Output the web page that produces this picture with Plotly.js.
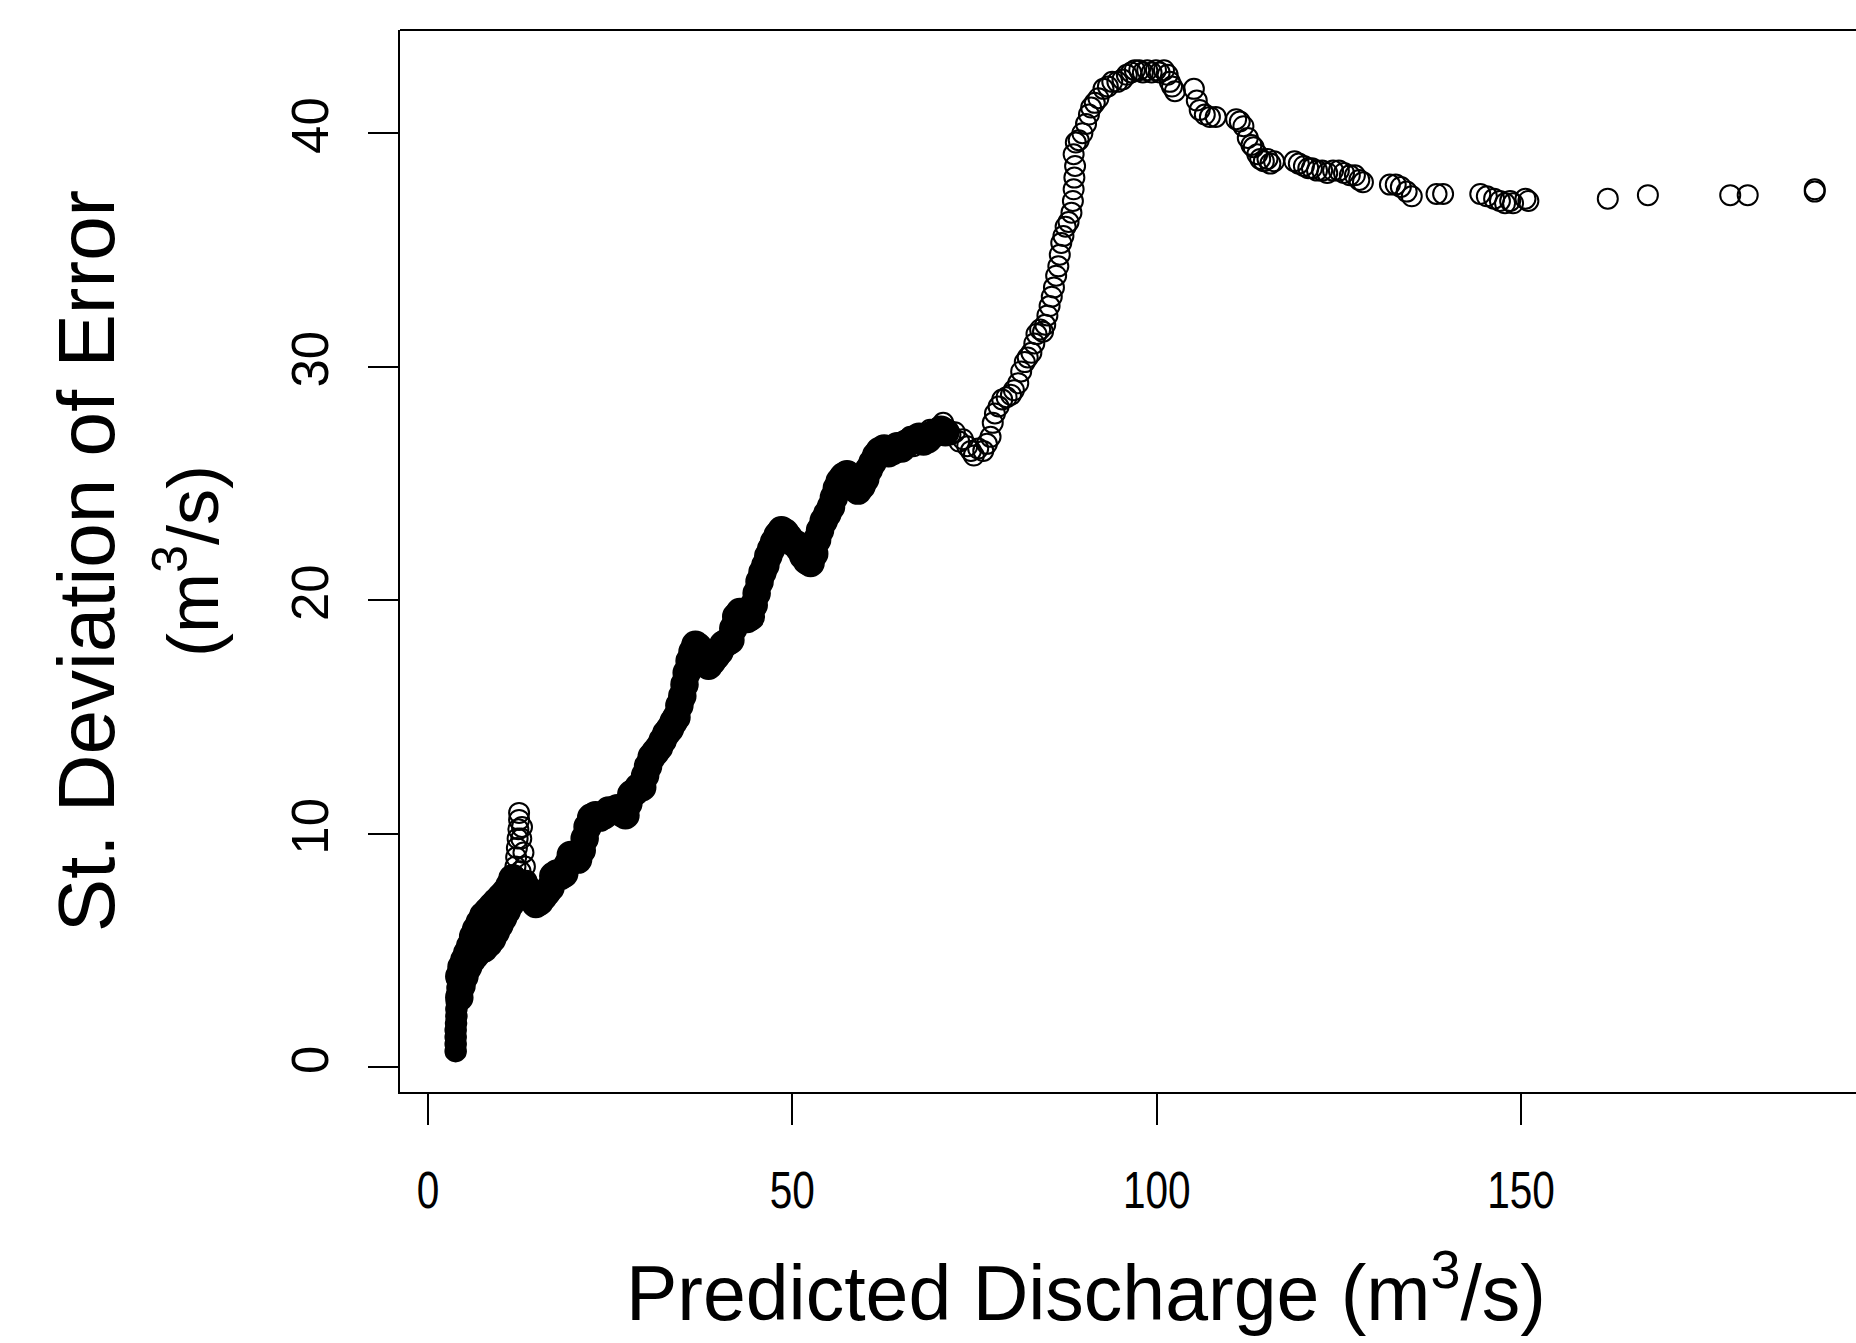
<!DOCTYPE html>
<html>
<head>
<meta charset="utf-8">
<script src="https://cdn.plot.ly/plotly-3.0.1.min.js"></script>
<style>
  html, body { margin: 0; padding: 0; background: #ffffff; overflow: hidden; }
  #chart { width: 1856px; height: 1343px; }
</style>
</head>
<body>
<div id="chart"></div>
<script>
// Lowest flows: narrow vertical column of overlapping points
const baseDischarge = [3.8, 3.8, 3.8, 3.8, 3.85, 3.9, 3.9, 3.95, 4.0, 4.05, 4.1];
const baseSdError   = [0.7, 1.0, 1.3, 1.6, 1.9, 2.2, 2.5, 2.8, 3.1, 3.4, 3.7];

// Dense low-flow part (points overlap into a solid band)
const coreDischarge = [
  4.3, 4.6, 5.0, 5.4, 5.8, 6.2, 6.6, 7.1, 7.6, 8.2, 8.8, 9.4, 10.0, 10.6, 11.2, 11.6,
  4.3, 4.6, 5.0, 5.5, 6.0, 6.5, 7.1, 7.7, 8.3, 8.8, 9.3, 9.8, 10.3, 10.8, 11.3, 11.8, 12.3,
  12.8, 13.3, 13.8, 14.3, 14.8, 15.3, 15.8, 16.3, 16.8, 17.2, 17.7, 18.2, 18.7, 19.2, 19.6,
  20.1, 20.6, 21.1, 21.5, 21.9, 22.4, 23.0, 23.6, 24.2, 24.8, 25.4, 26.0, 26.6, 27.1, 27.5,
  27.9, 28.4, 28.9, 29.4, 29.8, 30.2, 30.7, 31.2, 31.7, 32.2, 32.7, 33.2, 33.7, 34.1, 34.5,
  34.9, 35.2, 35.5, 35.9, 36.3, 36.7, 37.1, 37.5, 38.0, 38.5, 39.0, 39.5, 40.0, 40.5, 41.0,
  41.5, 41.9, 42.3, 42.8, 43.3, 43.8, 44.3, 44.7, 45.1, 45.5, 45.9, 46.3, 46.7, 47.1, 47.5,
  48.0, 48.5, 49.0, 49.5, 50.0, 50.5, 51.0, 51.5, 52.0, 52.5, 53.0, 53.4, 53.8, 54.3, 54.8,
  55.3, 55.7, 56.1, 56.5, 57.0, 57.5, 58.0, 58.5, 59.0, 59.5, 60.0, 60.5, 61.0, 61.5, 62.0,
  62.6, 63.2, 63.8, 64.4, 65.0, 65.6, 66.2, 66.8, 67.4, 68.0, 68.6, 69.2, 69.8, 70.4, 71.0
];
const coreSdError = [
  3.9, 4.3, 4.6, 4.9, 5.2, 5.6, 5.9, 6.2, 6.5, 6.7, 6.9, 7.1, 7.3, 7.5, 7.8, 8.1,
  3.0, 3.5, 3.9, 4.3, 4.6, 4.8, 5.0, 5.1, 5.3, 5.5, 5.8, 6.1, 6.4, 6.7, 7.0, 7.4, 7.6,
  7.6, 7.8, 7.5, 7.2, 7.0, 7.1, 7.3, 7.5, 7.7, 8.2, 8.3, 8.2, 8.3, 8.7, 9.1,
  9.0, 8.9, 9.3, 9.8, 10.3, 10.7, 10.8, 10.7, 10.8, 11.0, 11.0, 11.1, 10.9, 10.8, 11.3,
  11.7, 11.8, 12.0, 12.0, 12.5, 12.9, 13.3, 13.5, 13.7, 14.0, 14.3, 14.5, 14.8, 15.0, 15.5,
  15.9, 16.4, 16.9, 17.4, 17.8, 18.1, 18.0, 17.6, 17.3, 17.2, 17.4, 17.6, 17.8, 18.1, 18.2,
  18.3, 18.8, 19.3, 19.5, 19.4, 19.2, 19.3, 19.8, 20.3, 20.8, 21.2, 21.5, 21.9, 22.2, 22.5,
  22.8, 23.0, 22.9, 22.7, 22.5, 22.4, 22.2, 21.9, 21.7, 21.6, 22.0, 22.6, 23.0, 23.4, 23.7,
  24.0, 24.4, 24.8, 25.1, 25.3, 25.4, 25.1, 24.9, 24.7, 24.9, 25.2, 25.6, 25.9, 26.2, 26.4,
  26.5, 26.3, 26.4, 26.6, 26.5, 26.7, 26.8, 26.9, 27.0, 26.8, 26.9, 27.1, 27.2, 27.3, 27.2
];

// Sparser points (individual open circles visible): spike near 12 m3/s and flows above ~64 m3/s
const tailDischarge = [
  12.5, 12.5, 12.4, 12.3, 12.2, 12.1, 12.0, 11.9, 12.8, 12.9, 13.1, 13.3, 13.5, 12.7, 12.5,
  63.8, 64.4, 65.0, 65.6, 66.2, 66.6, 67.2, 67.8, 68.4, 68.9, 69.5, 70.1, 70.7, 71.2, 71.7,
  72.3, 72.9, 73.4, 74.0, 74.5, 74.9, 75.5, 76.2, 76.7, 77.2, 77.5, 77.8, 78.3, 78.8, 79.4,
  80.0, 80.4, 81.0, 81.4, 81.9, 82.3, 82.8, 83.2, 83.5, 84.0, 84.4, 84.7, 85.0, 85.3, 85.6,
  85.9, 86.2, 86.5, 86.7, 86.9, 87.2, 87.5, 87.9, 88.3, 88.5, 88.6, 88.7, 88.8, 88.6, 88.9,
  89.3, 89.8, 90.3, 90.7, 91.0, 91.5, 92.0, 92.7, 93.3, 93.9, 94.6, 95.3, 95.9, 96.5, 97.0,
  97.6, 98.1, 98.7, 99.3, 99.9, 100.4, 101.0, 101.5, 101.8, 102.1, 102.5, 105.1, 105.5, 105.9, 106.6,
  107.3, 108.1, 110.9, 111.4, 111.9, 112.5, 113.0, 113.3, 113.8, 114.2, 114.7, 115.2, 115.6, 116.1, 118.9,
  119.5, 120.2, 120.8, 121.3, 122.0, 122.7, 123.4, 124.2, 125.0, 125.7, 126.5, 127.2, 127.8, 128.3, 132.0,
  132.8, 133.5, 134.3, 135.0, 138.4, 139.3, 144.4, 145.3, 146.3, 147.1, 147.8, 148.5, 148.9, 150.6, 151.0,
  161.9, 167.4, 178.7, 181.1, 190.3, 190.3
];
const tailSdError = [
  10.9, 10.6, 10.2, 9.8, 9.4, 9.0, 8.6, 8.2, 9.8, 10.3, 9.2, 8.6, 8.0, 8.4, 7.9,
  26.5, 26.7, 26.4, 26.8, 27.0, 26.6, 27.1, 26.7, 26.9, 27.3, 27.0, 27.4, 27.6, 27.3, 27.1,
  27.2, 26.8, 26.9, 26.6, 26.4, 26.2, 26.5, 26.4, 26.7, 27.0, 27.6, 28.0, 28.3, 28.6, 28.7,
  28.8, 29.0, 29.3, 29.8, 30.2, 30.4, 30.6, 31.0, 31.4, 31.6, 31.5, 31.8, 32.2, 32.6, 33.0,
  33.4, 33.9, 34.3, 34.8, 35.3, 35.6, 36.0, 36.2, 36.6, 37.1, 37.6, 38.1, 38.6, 39.1, 39.6,
  39.7, 40.0, 40.4, 40.8, 41.1, 41.3, 41.5, 41.9, 42.0, 42.2, 42.2, 42.3, 42.5, 42.6, 42.7,
  42.7, 42.6, 42.7, 42.6, 42.7, 42.6, 42.7, 42.5, 42.2, 42.0, 41.8, 41.9, 41.4, 41.0, 40.8,
  40.7, 40.7, 40.6, 40.5, 40.3, 39.8, 39.5, 39.4, 39.1, 38.9, 38.8, 38.9, 38.7, 38.8, 38.8,
  38.7, 38.6, 38.5, 38.5, 38.4, 38.4, 38.3, 38.4, 38.4, 38.3, 38.2, 38.2, 38.0, 37.9, 37.8,
  37.8, 37.7, 37.5, 37.3, 37.4, 37.4, 37.4, 37.3, 37.2, 37.1, 37.0, 37.1, 37.0, 37.2, 37.1,
  37.2, 37.35, 37.35, 37.35, 37.5, 37.6
];

const xTickVals = [0, 50, 100, 150];
const xTickText = ['0', '50', '100', '150'];
const yTickVals = [0, 10, 20, 30, 40];
const yTickText = ['0', '10', '20', '30', '40'];

const xTitle = 'Predicted Discharge (m<sup>3</sup>/s)';
const yTitle = 'St. Deviation of Error<br><span style="font-size:72px">(m<sup>3</sup>/s)</span>';

const mainFont = '"Liberation Sans", Arial, Helvetica, sans-serif';

const traces = [
  {
    type: 'scatter', mode: 'markers',
    x: baseDischarge, y: baseSdError,
    marker: { symbol: 'circle', size: 21, color: '#000000', line: { color: '#000000', width: 1.5 } },
    hoverinfo: 'x+y', cliponaxis: false
  },
  {
    type: 'scatter', mode: 'markers',
    x: coreDischarge, y: coreSdError,
    marker: { symbol: 'circle', size: 27, color: '#000000', line: { color: '#000000', width: 1.5 } },
    hoverinfo: 'x+y', cliponaxis: false
  },
  {
    type: 'scatter', mode: 'markers',
    x: tailDischarge, y: tailSdError,
    marker: { symbol: 'circle-open', size: 20, color: '#000000', line: { color: '#000000', width: 2 } },
    hoverinfo: 'x+y', cliponaxis: false
  }
];

const layout = {
  width: 1856, height: 1343,
  margin: { l: 400, r: 0, t: 30, b: 251, pad: 0 },
  paper_bgcolor: '#ffffff', plot_bgcolor: '#ffffff',
  showlegend: false,
  font: { family: mainFont, color: '#000000' },
  xaxis: {
    range: [-3.84, 195.96],
    tickmode: 'array', tickvals: xTickVals, ticktext: xTickText,
    ticks: 'outside', ticklen: 31, tickwidth: 2, tickcolor: '#000000',
    showline: true, linewidth: 2, linecolor: '#000000',
    showgrid: false, zeroline: false,
    tickfont: { family: mainFont, size: 52, color: '#000000' },
    ticklabelstandoff: 21,
    title: { text: xTitle, font: { family: mainFont, size: 77, color: '#000000' }, standoff: 48 }
  },
  yaxis: {
    range: [-1.05, 44.42],
    tickmode: 'array', tickvals: yTickVals, ticktext: yTickText,
    ticks: 'outside', ticklen: 30, tickwidth: 2, tickcolor: '#000000',
    showline: true, linewidth: 2, linecolor: '#000000',
    showgrid: false, zeroline: false,
    tickangle: -90,
    tickfont: { family: mainFont, size: 51, color: '#000000' },
    ticklabelstandoff: 20,
    title: { text: yTitle, font: { family: mainFont, size: 80, color: '#000000' }, standoff: 37 }
  },
  shapes: [
    { type: 'line', xref: 'paper', yref: 'paper', x0: 0, x1: 1, y0: 1, y1: 1,
      line: { color: '#000000', width: 2 } }
  ]
};

Plotly.newPlot('chart', traces, layout, { displayModeBar: false, staticPlot: true }).then(function (gd) {
  // Condensed look of the reference's x tick labels: squeeze each label horizontally about its centre
  gd.querySelectorAll('.xtick text').forEach(function (t) {
    var b = t.getBBox();
    var cx = b.x + b.width / 2, cy = b.y + b.height / 2;
    var tr = t.getAttribute('transform') || '';
    t.setAttribute('transform', tr + ' translate(' + cx + ',' + cy + ') scale(0.78,1) translate(' + (-cx) + ',' + (-cy) + ')');
  });
  // The reference's x-axis title sits a little left of the plot-area centre
  var xt = gd.querySelector('.g-xtitle text');
  if (xt) {
    var tr0 = xt.getAttribute('transform') || '';
    xt.setAttribute('transform', tr0 + ' translate(-42,0)');
  }
});
</script>
</body>
</html>
